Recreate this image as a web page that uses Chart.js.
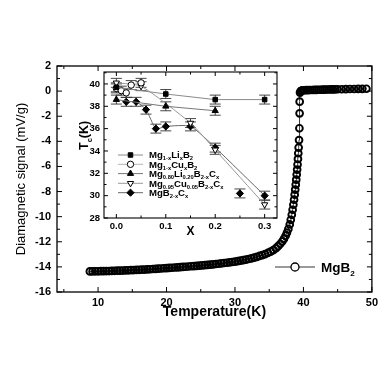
<!DOCTYPE html>
<html>
<head>
<meta charset="utf-8">
<script src="https://cdn.jsdelivr.net/npm/chart.js@4.4.1/dist/chart.umd.min.js"></script>
<style>
  html, body { margin: 0; padding: 0; background: #fff; }
  #wrap { position: relative; width: 382px; height: 382px; }
  #main { position: absolute; left: 0; top: 0; }
  #inset { position: absolute; left: 62px; top: 62px; }
</style>
</head>
<body>
<div id="wrap">
  <canvas id="main" width="382" height="382"></canvas>
  <canvas id="inset" width="222" height="182"></canvas>
</div>
<script>
// main curve: diamagnetic signal of MgB2 vs temperature
const tempK = [8.8,9.2,9.6,10.0,10.4,10.8,11.2,11.6,12.0,12.4,12.8,13.2,13.6,14.0,14.4,14.8,15.2,15.6,16.0,16.4,
  16.8,17.2,17.6,18.0,18.4,18.8,19.2,19.6,20.0,20.4,20.8,21.2,21.6,22.0,22.4,22.8,23.2,23.6,24.0,24.4,
  24.8,25.2,25.6,26.0,26.4,26.8,27.2,27.6,28.0,28.4,28.8,29.2,29.6,30.0,30.4,30.8,31.2,31.6,32.0,32.4,
  32.8,33.2,33.6,34.0,34.4,34.8,35.2,35.6,36.0,
  36.3,36.6,36.9,37.15,37.4,37.6,37.8,38.0,38.15,38.3,38.42,38.53,38.63,38.72,38.8,38.88,38.95,39.02,39.08,39.14,
  39.2,39.25,39.3,39.36,39.41,39.44,39.45,
  39.5,39.6,39.75,39.9,40.1,
  40.4,40.7,41.0,41.3,41.6,41.9,42.2,42.5,42.8,43.1,43.4,43.7,44.0,
  44.3,44.6,45.0,45.6,46.2,46.8,47.4,48.0,48.6,49.2];
const signal = [-14.36,-14.36,-14.35,-14.35,-14.34,-14.34,-14.33,-14.33,-14.32,-14.31,
  -14.30,-14.30,-14.29,-14.28,-14.27,-14.26,-14.25,-14.24,-14.23,-14.22,
  -14.21,-14.20,-14.19,-14.17,-14.16,-14.14,-14.13,-14.11,-14.10,-14.08,
  -14.07,-14.05,-14.04,-14.02,-14.00,-13.99,-13.97,-13.95,-13.94,-13.92,
  -13.90,-13.88,-13.86,-13.84,-13.82,-13.80,-13.77,-13.75,-13.72,-13.69,
  -13.67,-13.64,-13.61,-13.58,-13.54,-13.50,-13.46,-13.42,-13.37,-13.32,
  -13.26,-13.20,-13.13,-13.06,-12.98,-12.89,-12.79,-12.66,-12.50,
  -12.35,-12.18,-11.98,-11.77,-11.52,-11.27,-10.98,-10.62,-10.25,-9.85,
  -9.45,-9.05,-8.65,-8.25,-7.85,-7.45,-7.05,-6.65,-6.25,-5.85,
  -5.40,-4.95,-4.50,-3.90,-2.96,-1.77,-0.84,
  -0.12,0.00,0.04,0.06,0.07,
  0.08,0.08,0.09,0.09,0.10,0.10,0.11,0.11,0.12,0.12,0.13,0.13,0.14,
  0.14,0.14,0.15,0.15,0.16,0.17,0.17,0.18,0.18,0.19];

const mainXTicks = [10, 20, 30, 40, 50];
const mainXMinor = [5, 15, 25, 35, 45];
const mainYTicks = [2, 0, -2, -4, -6, -8, -10, -12, -14, -16];
const mainYMinor = [1, -1, -3, -5, -7, -9, -11, -13, -15];

// inset: Tc vs doping level x
const liX = [0, 0.1, 0.2, 0.3];
const liTc = [39.7, 39.1, 38.6, 38.6];
const cuX = [0, 0.01, 0.02, 0.03, 0.05];
const cuTc = [39.6, 39.4, 39.2, 39.9, 40.1];
const liCX = [0, 0.1, 0.2];
const liCTc = [38.6, 38.0, 37.6];
const cuCX = [0, 0.05, 0.15, 0.2, 0.3];
const cuCTc = [40.1, 39.8, 36.5, 34.1, 29.2];
const cX = [0.02, 0.04, 0.06, 0.08, 0.1, 0.15, 0.2, 0.3];
const cTc = [38.4, 38.4, 37.7, 36.0, 36.2, 36.2, 34.3, 30.0];
const cOffX = [0.25];
const cOffTc = [30.2];
const tcErr = 0.4;

const insetXTicks = [0, 0.1, 0.2, 0.3];
const insetXLabels = ['0.0', '0.1', '0.2', '0.3'];
const insetXMinor = [0.05, 0.15, 0.25];
const insetYTicks = [28, 30, 32, 34, 36, 38, 40];
const insetYMinor = [29, 31, 33, 35, 37, 39, 41];

const legendNames = ['Mg_{1-x}Li_{x}B_{2}', 'Mg_{1-x}Cu_{x}B_{2}', 'Mg_{0.80}Li_{0.20}B_{2-x}C_{x}',
  'Mg_{0.95}Cu_{0.05}B_{2-x}C_{x}', 'MgB_{2-x}C_{x}'];

const FONT = "'Liberation Sans', Arial, sans-serif";
Chart.defaults.font.family = FONT;
Chart.defaults.color = '#000';

const pts = (xs, ys) => xs.map((v, i) => ({ x: v, y: ys[i] }));

// text with _{sub} parts
function drawRich(ctx, str, x, y, size, drop) {
  str.split(/(_\{[^}]*\})/).filter(Boolean).forEach(p => {
    const sub = p.startsWith('_{');
    const t = sub ? p.slice(2, -1) : p;
    ctx.font = 'bold ' + (sub ? size * 0.6 : size) + 'px ' + FONT;
    ctx.fillText(t, x, sub ? y + size * (drop || 0.3) : y);
    x += ctx.measureText(t).width;
  });
  return x;
}

// box frame plus inward ticks on all four sides
const frameTicks = {
  id: 'frameTicks',
  afterDatasetsDraw(chart, args, o) {
    const { ctx, chartArea: a, scales: { x, y } } = chart;
    ctx.save();
    ctx.strokeStyle = '#000';
    ctx.lineWidth = o.width;
    ctx.strokeRect(a.left, a.top, a.right - a.left, a.bottom - a.top);
    ctx.lineWidth = 1;
    const marks = (vals, len, isX) => vals.forEach(v => {
      ctx.beginPath();
      if (isX) {
        const px = x.getPixelForValue(v);
        ctx.moveTo(px, a.bottom); ctx.lineTo(px, a.bottom - len);
        ctx.moveTo(px, a.top); ctx.lineTo(px, a.top + len);
      } else {
        const py = y.getPixelForValue(v);
        if (py < a.top - 0.5) return;
        ctx.moveTo(a.left, py); ctx.lineTo(a.left + len, py);
        ctx.moveTo(a.right, py); ctx.lineTo(a.right - len, py);
      }
      ctx.stroke();
    });
    marks(o.xMajor, o.major, true);
    marks(o.xMinor, o.minor, true);
    marks(o.yMajor, o.major, false);
    marks(o.yMinor, o.minor, false);
    ctx.restore();
  }
};

const mainLegend = {
  id: 'mainLegend',
  afterDraw(chart) {
    const ctx = chart.ctx;
    ctx.save();
    ctx.strokeStyle = '#000';
    ctx.lineWidth = 0.8;
    ctx.beginPath(); ctx.moveTo(275, 267); ctx.lineTo(315, 267); ctx.stroke();
    ctx.fillStyle = '#fff';
    ctx.lineWidth = 1.3;
    ctx.beginPath(); ctx.arc(295, 267, 4, 0, Math.PI * 2); ctx.fill(); ctx.stroke();
    ctx.fillStyle = '#000';
    ctx.textBaseline = 'alphabetic';
    drawRich(ctx, 'MgB_{2}', 321, 272, 13.5);
    ctx.restore();
  }
};

new Chart(document.getElementById('main'), {
  type: 'scatter',
  data: {
    datasets: [{
      data: pts(tempK, signal),
      showLine: true,
      borderColor: '#000',
      borderWidth: 0.8,
      pointRadius: 3.4,
      pointBorderWidth: 1.9,
      pointBackgroundColor: 'rgba(255,255,255,0)',
      pointBorderColor: '#000'
    }]
  },
  options: {
    responsive: false,
    animation: false,
    events: [],
    layout: { padding: { top: 66, right: 9, bottom: 60, left: 0 } },
    plugins: {
      legend: { display: false },
      tooltip: { enabled: false },
      frameTicks: { width: 1.3, major: 5, minor: 3, xMajor: mainXTicks, xMinor: mainXMinor, yMajor: mainYTicks, yMinor: mainYMinor }
    },
    scales: {
      x: {
        min: 4, max: 50,
        afterBuildTicks: s => { s.ticks = mainXTicks.map(v => ({ value: v })); },
        afterFit: s => { s.height = 30; },
        grid: { display: false, drawTicks: false },
        border: { display: false },
        ticks: { padding: 4, autoSkip: false, maxRotation: 0, font: { size: 11, weight: 'bold' } },
        title: { display: true, text: 'Temperature(K)', font: { size: 14, weight: 'bold' }, padding: { top: 0, bottom: 1 } }
      },
      y: {
        min: -16, max: 2,
        afterBuildTicks: s => { s.ticks = mainYTicks.map(v => ({ value: v })); },
        afterFit: s => { s.width = 57; },
        grid: { display: false, drawTicks: false },
        border: { display: false },
        ticks: { padding: 6, autoSkip: false, font: { size: 11, weight: 'bold' } },
        title: { display: true, text: 'Diamagnetic signal (mV/g)', font: { size: 13 }, padding: { top: 14, bottom: 0 } }
      }
    }
  },
  plugins: [frameTicks, mainLegend]
});

// error bars drawn under the markers
const errorBars = {
  id: 'errorBars',
  beforeDatasetsDraw(chart, args, o) {
    const { ctx, scales: { y } } = chart;
    ctx.save();
    ctx.strokeStyle = '#333';
    ctx.lineWidth = 0.9;
    chart.data.datasets.forEach((ds, i) => {
      chart.getDatasetMeta(i).data.forEach((pt, j) => {
        const v = ds.data[j].y;
        const t = y.getPixelForValue(v + o.err), b = y.getPixelForValue(v - o.err);
        ctx.beginPath();
        ctx.moveTo(pt.x, t); ctx.lineTo(pt.x, b);
        ctx.moveTo(pt.x - o.cap, t); ctx.lineTo(pt.x + o.cap, t);
        ctx.moveTo(pt.x - o.cap, b); ctx.lineTo(pt.x + o.cap, b);
        ctx.stroke();
      });
    });
    ctx.restore();
  }
};

const insetText = {
  id: 'insetText',
  afterDraw(chart) {
    const { ctx, chartArea: a } = chart;
    ctx.save();
    ctx.fillStyle = '#000';
    // axis titles
    ctx.font = 'bold 12px ' + FONT;
    ctx.textAlign = 'center';
    ctx.textBaseline = 'middle';
    ctx.fillText('X', (a.left + a.right) / 2, 170);
    ctx.textAlign = 'left';
    ctx.textBaseline = 'alphabetic';
    ctx.translate(26, 88);
    ctx.rotate(-Math.PI / 2);
    drawRich(ctx, 'T_{c}(K)', 0, 0, 12.5);
    ctx.setTransform(1, 0, 0, 1, 0, 0);
    // legend rows
    const rows = [93, 102.3, 111.6, 121.3, 130.7];
    legendNames.forEach((name, i) => {
      const ds = chart.data.datasets[i];
      const yy = rows[i];
      ctx.strokeStyle = ds.borderColor;
      ctx.lineWidth = 1;
      ctx.beginPath(); ctx.moveTo(56, yy); ctx.lineTo(81, yy); ctx.stroke();
      ctx.fillStyle = ds.pointBackgroundColor;
      ctx.strokeStyle = '#000';
      ctx.lineWidth = ds.pointBorderWidth;
      Chart.helpers.drawPoint(ctx, { pointStyle: ds.pointStyle, rotation: ds.pointRotation || 0, radius: ds.pointRadius, borderWidth: ds.pointBorderWidth }, 68.5, yy);
      ctx.fillStyle = '#000';
      drawRich(ctx, name, 87, yy + 3.3, 9.6, 0.22);
    });
    ctx.restore();
  }
};

const series = (xs, ys, line, style, fill, extra) => Object.assign({
  data: pts(xs, ys),
  showLine: true,
  borderColor: line,
  borderWidth: 1,
  pointStyle: style,
  pointRadius: 3.2,
  pointBorderWidth: 1,
  pointBorderColor: '#000',
  pointBackgroundColor: fill
}, extra || {});

new Chart(document.getElementById('inset'), {
  type: 'scatter',
  data: {
    datasets: [
      series(liX, liTc, '#8a8a8a', 'rect', '#000'),
      series(cuX, cuTc, '#b5b5b5', 'circle', '#fff'),
      series(liCX, liCTc, '#777', 'triangle', '#000', { pointRadius: 3.6 }),
      series(cuCX, cuCTc, '#999', 'triangle', '#fff', { pointRotation: 180, pointRadius: 3.6, tension: 0.2 }),
      series(cX, cTc, '#666', 'rectRot', '#000', { pointRadius: 3.6, tension: 0.2 }),
      series(cOffX, cOffTc, '#666', 'rectRot', '#000', { showLine: false, pointRadius: 3.6 })
    ]
  },
  options: {
    responsive: false,
    animation: false,
    events: [],
    layout: { padding: { top: 10, right: 7, bottom: 0, left: 0 } },
    plugins: {
      legend: { display: false },
      tooltip: { enabled: false },
      errorBars: { err: tcErr, cap: 5.5 },
      frameTicks: { width: 1.1, major: 4, minor: 2.5, xMajor: insetXTicks, xMinor: insetXMinor, yMajor: insetYTicks, yMinor: insetYMinor }
    },
    scales: {
      x: {
        min: -0.025, max: 0.325,
        afterBuildTicks: s => { s.ticks = insetXTicks.map(v => ({ value: v })); },
        afterFit: s => { s.height = 26; },
        grid: { display: false, drawTicks: false },
        border: { display: false },
        ticks: { padding: 3, autoSkip: false, maxRotation: 0, font: { size: 9.5, weight: 'bold' },
          callback: (v, i) => insetXLabels[i] }
      },
      y: {
        min: 28, max: 41.07,
        afterBuildTicks: s => { s.ticks = insetYTicks.map(v => ({ value: v })); },
        afterFit: s => { s.width = 42; },
        grid: { display: false, drawTicks: false },
        border: { display: false },
        ticks: { padding: 4, autoSkip: false, font: { size: 9.5, weight: 'bold' } }
      }
    }
  },
  plugins: [errorBars, frameTicks, insetText]
});
</script>
</body>
</html>
